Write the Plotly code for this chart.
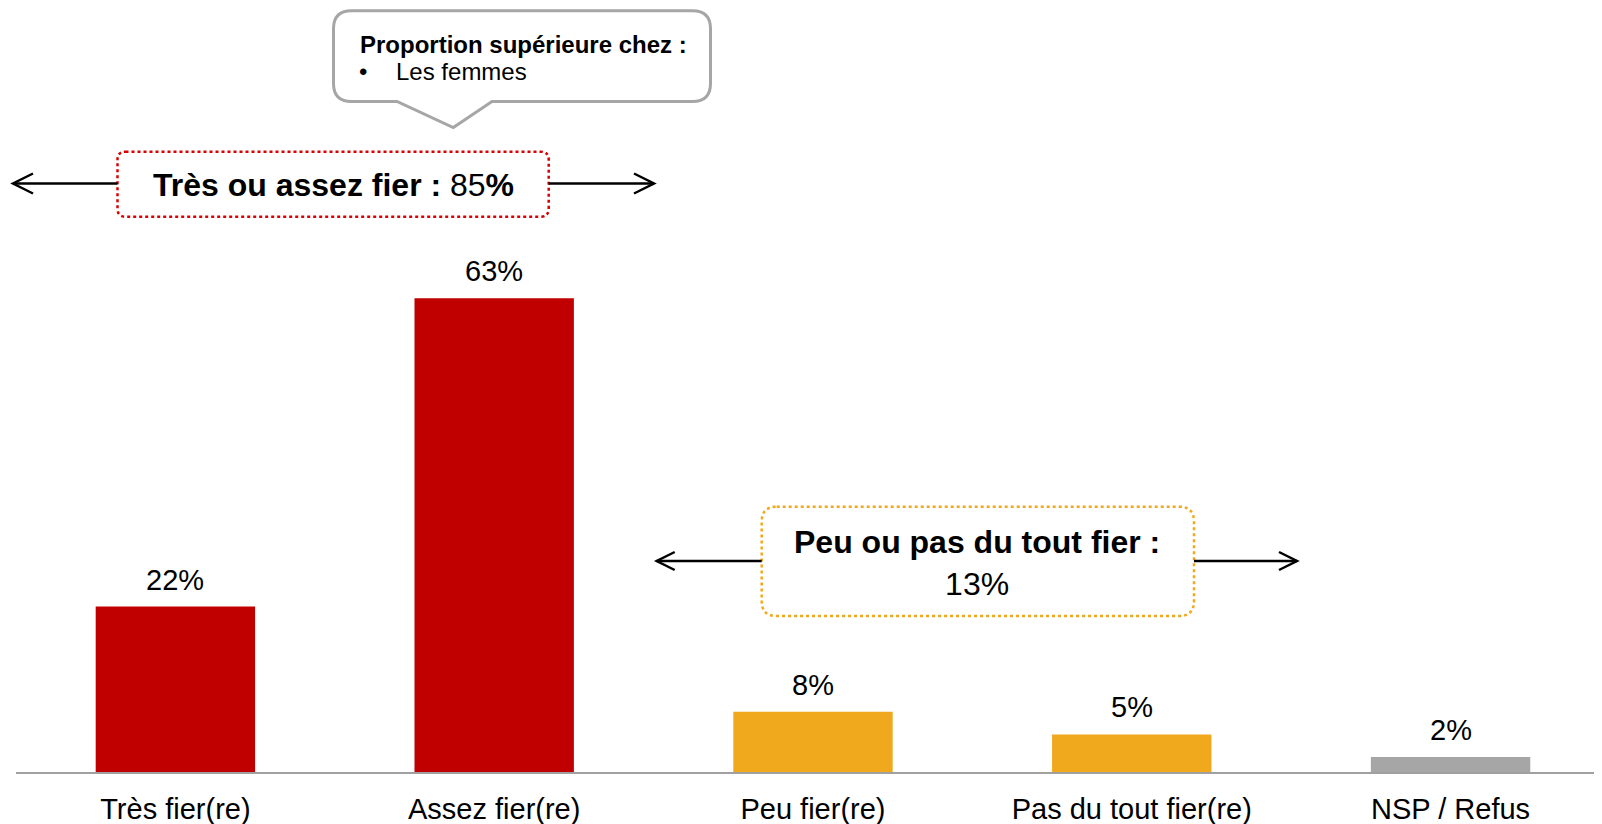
import plotly.graph_objects as go

# ---- data ----
categories = ["Très fier(re)", "Assez fier(re)", "Peu fier(re)", "Pas du tout fier(re)", "NSP / Refus"]
values = [22, 63, 8, 5, 2]
value_labels = ["22%", "63%", "8%", "5%", "2%"]
bar_colors = ["#C00000", "#C00000", "#F0A81C", "#F0A81C", "#A6A6A6"]

group_high_label = "<b>Très ou assez fier :</b> 85<b>%</b>"
group_low_label = "<b>Peu ou pas du tout fier :</b><br>13%"
callout_title = "<b>Proportion supérieure chez :</b>"
callout_item = "Les femmes"

FONT = "Arial, 'Liberation Sans', sans-serif"

# ---- layout geometry (screen pixels; page body has an 8px margin) ----
OFF = 8
WIDTH, HEIGHT = 1602 - OFF, 824 - OFF
PLOT_LEFT, PLOT_TOP, PLOT_BOTTOM = 16, 20, 772   # in screen pixels
L = PLOT_LEFT - OFF
T = PLOT_TOP - OFF
B = HEIGHT - (PLOT_BOTTOM - OFF)
R = 0
PW = WIDTH - L - R
PH = HEIGHT - T - B


def px(x, y):
    # screen pixel -> paper coordinates
    return ((x - PLOT_LEFT) / PW, (PLOT_BOTTOM - y) / PH)


def path_from(points_cmds):
    out = []
    for cmd, pts in points_cmds:
        coords = []
        for (x, y) in pts:
            X, Y = px(x, y)
            coords.append(f"{X:.6f},{Y:.6f}")
        out.append(cmd + " ".join(coords))
    return " ".join(out)


def rrect(x0, y0, x1, y1, r):
    return path_from([
        ("M", [(x0 + r, y0)]),
        ("L", [(x1 - r, y0)]),
        ("Q", [(x1, y0), (x1, y0 + r)]),
        ("L", [(x1, y1 - r)]),
        ("Q", [(x1, y1), (x1 - r, y1)]),
        ("L", [(x0 + r, y1)]),
        ("Q", [(x0, y1), (x0, y1 - r)]),
        ("L", [(x0, y0 + r)]),
        ("Q", [(x0, y0), (x0 + r, y0)]),
    ]) + " Z"


def callout(x0, y0, x1, y1, r, bl, br, tx, ty):
    return path_from([
        ("M", [(x0 + r, y0)]),
        ("L", [(x1 - r, y0)]),
        ("Q", [(x1, y0), (x1, y0 + r)]),
        ("L", [(x1, y1 - r)]),
        ("Q", [(x1, y1), (x1 - r, y1)]),
        ("L", [(br, y1)]),
        ("L", [(tx, ty)]),
        ("L", [(bl, y1)]),
        ("L", [(x0 + r, y1)]),
        ("Q", [(x0, y1), (x0, y1 - r)]),
        ("L", [(x0, y0 + r)]),
        ("Q", [(x0, y0), (x0 + r, y0)]),
    ]) + " Z"


fig = go.Figure()
fig.add_trace(go.Bar(
    x=categories, y=values, marker=dict(color=bar_colors, line=dict(width=0)),
    hoverinfo="skip", showlegend=False,
))

annotations = []
for c, v, lab in zip(categories, values, value_labels):
    annotations.append(dict(
        x=c, y=v, xref="x", yref="y", text=lab, showarrow=False,
        yanchor="middle", xanchor="center", yshift=27,
        font=dict(family=FONT, size=29, color="#000000"),
    ))

shapes = []

# callout bubble
shapes.append(dict(type="path", xref="paper", yref="paper",
                   path=callout(333.5, 10.7, 710.5, 101.5, 18, 397, 492, 453.3, 127.5),
                   line=dict(color="#A6A6A6", width=3), fillcolor="#FFFFFF", layer="above"))
x, y = px(358, 44.2)
annotations.append(dict(x=x, y=y, xref="paper", yref="paper", text=callout_title,
                        showarrow=False, xanchor="left", yanchor="middle",
                        font=dict(family=FONT, size=24, color="#000000")))
x, y = px(357, 71.5)
annotations.append(dict(x=x, y=y, xref="paper", yref="paper", text="•",
                        showarrow=False, xanchor="left", yanchor="middle",
                        font=dict(family=FONT, size=24, color="#000000")))
x, y = px(393.5, 71.5)
annotations.append(dict(x=x, y=y, xref="paper", yref="paper", text=callout_item,
                        showarrow=False, xanchor="left", yanchor="middle",
                        font=dict(family=FONT, size=24, color="#000000")))


def arrow(x_from, x_to, yy, head=20, half=10):
    d = 1 if x_to > x_from else -1
    shapes.append(dict(type="path", xref="paper", yref="paper",
                       path=path_from([("M", [(x_from, yy)]), ("L", [(x_to, yy)])]),
                       line=dict(color="#000000", width=2.5)))
    shapes.append(dict(type="path", xref="paper", yref="paper",
                       path=path_from([("M", [(x_to - d * head, yy - half)]),
                                       ("L", [(x_to, yy)]),
                                       ("L", [(x_to - d * head, yy + half)])]),
                       line=dict(color="#000000", width=2.5)))


# red group box
shapes.append(dict(type="path", xref="paper", yref="paper",
                   path=rrect(117.5, 151.7, 548.7, 216.7, 8),
                   line=dict(color="#D80000", width=2.5, dash="dot"), fillcolor="rgba(0,0,0,0)"))
arrow(117.5, 13, 183.5)
arrow(548.7, 654, 183.5)
x, y = px(333.6, 184.5)
annotations.append(dict(x=x, y=y, xref="paper", yref="paper", text=group_high_label,
                        showarrow=False, xanchor="center", yanchor="middle",
                        font=dict(family=FONT, size=32, color="#000000")))

# orange group box
shapes.append(dict(type="path", xref="paper", yref="paper",
                   path=rrect(761.7, 506.7, 1194, 616, 15),
                   line=dict(color="#F0A81C", width=2.5, dash="dot"), fillcolor="rgba(0,0,0,0)"))
arrow(761.7, 656.7, 561, head=18, half=9)
arrow(1194, 1297, 561, head=18, half=9)
x, y = px(976.6, 562.5)
annotations.append(dict(x=x, y=y, xref="paper", yref="paper", text=group_low_label,
                        showarrow=False, xanchor="center", yanchor="middle", align="center",
                        font=dict(family=FONT, size=32, color="#000000")))

fig.update_layout(
    width=WIDTH, height=HEIGHT,
    margin=dict(l=L, r=R, t=T, b=B, pad=0, autoexpand=False),
    paper_bgcolor="#FFFFFF", plot_bgcolor="#FFFFFF",
    bargap=0.5,
    font=dict(family=FONT, color="#000000"),
    xaxis=dict(range=[-0.5, 4.475], showgrid=False, zeroline=False,
               showline=True, linecolor="#A0A0A0", linewidth=2,
               ticks="", ticklabelstandoff=10, automargin=False,
               tickfont=dict(family=FONT, size=29, color="#000000"),
               fixedrange=True),
    yaxis=dict(range=[0, 100], visible=False, showgrid=False, zeroline=False,
               automargin=False, fixedrange=True),
    shapes=shapes, annotations=annotations,
    showlegend=False,
)

fig.write_html("out.html", config={"displayModeBar": False})
